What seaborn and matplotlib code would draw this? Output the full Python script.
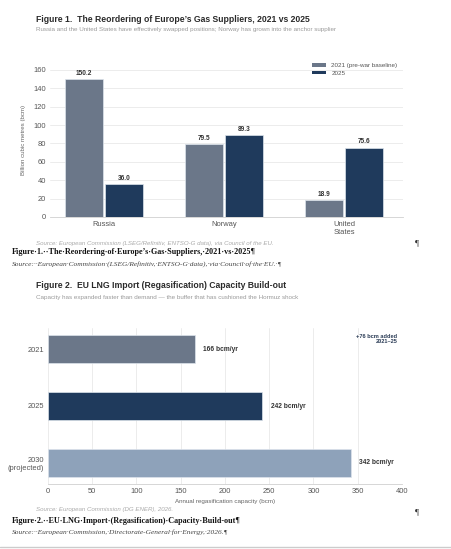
import matplotlib
matplotlib.use("Agg")
import matplotlib.pyplot as plt
import seaborn as sns
import pandas as pd
from matplotlib.lines import Line2D

# ---------------- data ----------------
suppliers = ["Russia", "Norway", "United\nStates"]
years = ["2021 (pre-war baseline)", "2025"]
values_2021 = [150.2, 79.5, 18.9]
values_2025 = [36.0, 89.3, 75.6]

cap_labels = ["2021", "2025", "2030\n(projected)"]
cap_values = [166, 242, 342]

bar_colors = ["#6b7789", "#1f3a5c"]
cap_colors = ["#6b7789", "#1f3a5c", "#8ea2ba"]

sns.set_theme(style="whitegrid")
plt.rcParams["font.family"] = ["Liberation Sans", "DejaVu Sans"]

W, H = 452, 549
fig = plt.figure(figsize=(W / 100, H / 100), dpi=100)
fig.patch.set_facecolor("white")

def ax_rect(l, r, t, b):
    return [l / W, 1 - b / H, (r - l) / W, (b - t) / H]

def ftext(x, y, s, **kw):
    fig.text(x / W, 1 - y / H, s, **kw)

TITLE = "#2a2a2a"
SUB = "#9a9a9a"
TICK = "#555555"
GRID = "#e9e9e9"
SERIF = ["Liberation Serif", "DejaVu Serif"]

# ---------------- Figure 1 ----------------
ftext(36, 19, "Figure 1.  The Reordering of Europe\u2019s Gas Suppliers, 2021 vs 2025",
      fontsize=6.2, fontweight="bold", color=TITLE, va="center")
ftext(36, 29, "Russia and the United States have effectively swapped positions; Norway has grown into the anchor supplier",
      fontsize=4.5, color=SUB, va="center")

df1 = pd.DataFrame({
    "supplier": suppliers * 2,
    "year": [years[0]] * 3 + [years[1]] * 3,
    "value": values_2021 + values_2025,
})
ax1 = fig.add_axes(ax_rect(50, 403, 62.6, 217))
sns.barplot(data=df1, x="supplier", y="value", hue="year", palette=bar_colors,
            saturation=1, width=0.675, gap=0.06, edgecolor="#dde4ec",
            linewidth=0.5, ax=ax1)
for cont in ax1.containers:
    ax1.bar_label(cont, fmt="%.1f", padding=1.5, fontsize=4.7,
                  fontweight="bold", color="#333333")
ax1.set_xlim(-0.45, 2.49)
ax1.set_ylim(0, 168)
ax1.set_yticks(range(0, 161, 20))
ax1.set_xlabel("")
ax1.set_ylabel("Billion cubic metres (bcm)", fontsize=4.4, color="#666666", labelpad=5)
ax1.tick_params(axis="both", labelsize=5.4, colors=TICK, length=0, pad=3)
ax1.grid(axis="y", color=GRID, linewidth=0.6)
ax1.grid(axis="x", visible=False)
for s in ["top", "right", "left"]:
    ax1.spines[s].set_visible(False)
ax1.spines["bottom"].set_color("#d0d0d0")
ax1.spines["bottom"].set_linewidth(0.6)
leg = ax1.legend(loc="upper right", bbox_to_anchor=(1.0, 1.035), frameon=False,
                 fontsize=4.5, handlelength=2.2, handleheight=0.55,
                 handletextpad=0.8, labelspacing=0.45)
for t in leg.get_texts():
    t.set_color("#555555")
for p in leg.get_patches():
    p.set_edgecolor("none")

ftext(36, 243, "Source: European Commission (LSEG/Refinitiv, ENTSO-G data), via Council of the EU.",
      fontsize=4.4, style="italic", color="#aaaaaa", va="center")
ftext(415, 243, "\u00b6", fontsize=6.5, color="#333333", va="center", family=SERIF)
ftext(12, 252.5, "Figure\u00b71.\u00b7\u00b7The\u00b7Reordering\u00b7of\u00b7Europe\u2019s\u00b7Gas\u00b7Suppliers,\u00b72021\u00b7vs\u00b72025\u00b6",
      fontsize=5.9, fontweight="bold", color="#111111", va="center", family=SERIF)
ftext(12, 264, "Source:\u00b7\u00b7European\u00b7Commission\u00b7(LSEG/Refinitiv,\u00b7ENTSO-G\u00b7data),\u00b7via\u00b7Council\u00b7of\u00b7the\u00b7EU.\u00b7\u00b6",
      fontsize=5.3, style="italic", color="#444444", va="center", family=SERIF)

# ---------------- Figure 2 ----------------
ftext(36, 286, "Figure 2.  EU LNG Import (Regasification) Capacity Build-out",
      fontsize=6.2, fontweight="bold", color=TITLE, va="center")
ftext(36, 297, "Capacity has expanded faster than demand \u2014 the buffer that has cushioned the Hormuz shock",
      fontsize=4.5, color=SUB, va="center")

df2 = pd.DataFrame({"period": cap_labels, "cap": cap_values})
ax2 = fig.add_axes(ax_rect(48, 402, 328, 484))
sns.barplot(data=df2, y="period", x="cap", hue="period", palette=cap_colors,
            saturation=1, orient="h", width=0.49, edgecolor="#dde4ec",
            linewidth=0.5, legend=False, ax=ax2)
for cont, v in zip(ax2.containers, cap_values):
    ax2.bar_label(cont, labels=[f"{v} bcm/yr"], padding=6, fontsize=4.8,
                  fontweight="bold", color="#333333")
ax2.set_xlim(0, 400)
ax2.set_ylim(2.37, -0.37)
ax2.set_xticks(range(0, 401, 50))
ax2.set_ylabel("")
ax2.set_xlabel("Annual regasification capacity (bcm)", fontsize=4.5,
               color="#666666", labelpad=2.5)
ax2.tick_params(axis="both", labelsize=5.4, colors=TICK, length=0, pad=3)
ax2.grid(axis="x", color=GRID, linewidth=0.6)
ax2.grid(axis="y", visible=False)
for s in ["top", "right", "left"]:
    ax2.spines[s].set_visible(False)
ax2.spines["bottom"].set_color("#d0d0d0")
ax2.spines["bottom"].set_linewidth(0.6)
added = cap_values[1] - cap_values[0]
ax2.text(395, -0.27, f"+{added} bcm added\n2021\u201325", ha="right", va="top",
         fontsize=4.1, fontweight="bold", color="#2a3b55", linespacing=1.1)

ftext(36, 510, "Source: European Commission (DG ENER), 2026.",
      fontsize=4.4, style="italic", color="#aaaaaa", va="center")
ftext(415, 512, "\u00b6", fontsize=6.5, color="#333333", va="center", family=SERIF)
ftext(12, 521, "Figure\u00b72.\u00b7\u00b7EU\u00b7LNG\u00b7Import\u00b7(Regasification)\u00b7Capacity\u00b7Build-out\u00b6",
      fontsize=5.9, fontweight="bold", color="#111111", va="center", family=SERIF)
ftext(12, 532, "Source:\u00b7\u00b7European\u00b7Commission,\u00b7Directorate-General\u00b7for\u00b7Energy,\u00b72026.\u00b6",
      fontsize=5.3, style="italic", color="#444444", va="center", family=SERIF)

fig.add_artist(Line2D([0, 1], [1 - 546.5 / H, 1 - 546.5 / H], transform=fig.transFigure,
                      color="#cccccc", linewidth=1.0))

fig.savefig("out.png", dpi=100, facecolor="white")
